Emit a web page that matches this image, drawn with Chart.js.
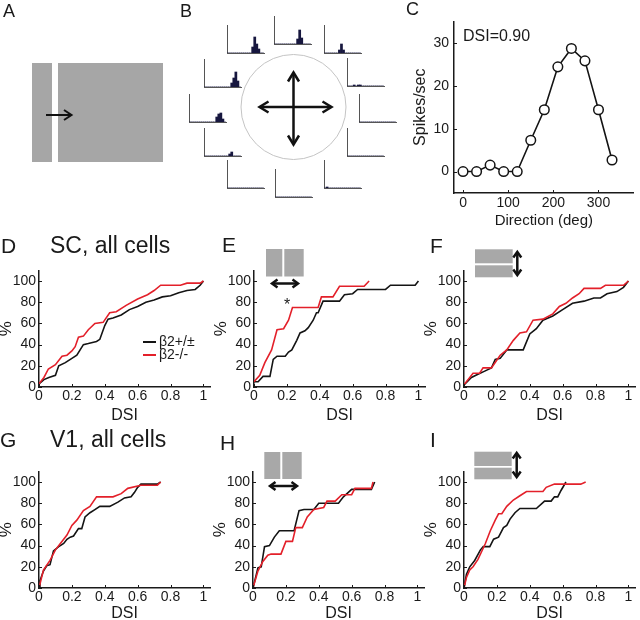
<!DOCTYPE html>
<html>
<head>
<meta charset="utf-8">
<script src="https://cdn.jsdelivr.net/npm/chart.js@4.4.1/dist/chart.umd.min.js"></script>
<style>
  html, body { margin: 0; padding: 0; background: #fff; }
  #fig { position: relative; width: 640px; height: 620px; overflow: hidden; }
  #fig canvas { position: absolute; }
  #art { position: absolute; left: 0; top: 0; pointer-events: none; }
  #art text { font-family: 'Liberation Sans', Arial, sans-serif; fill: #1a1a1a; }
</style>
</head>
<body>
<div id="fig">
  <!-- panel B: mini PSTHs -->
  <canvas id="m-topCenter"></canvas><canvas id="m-topRight"></canvas><canvas id="m-topLeft"></canvas>
  <canvas id="m-leftUp"></canvas><canvas id="m-rightUp"></canvas><canvas id="m-leftMid"></canvas>
  <canvas id="m-rightMid"></canvas><canvas id="m-leftLow"></canvas><canvas id="m-rightLow"></canvas>
  <canvas id="m-botLeft"></canvas><canvas id="m-botCenter"></canvas><canvas id="m-botRight"></canvas>
  <!-- panel C + cumulative plots -->
  <canvas id="chart-c"></canvas>
  <canvas id="chart-d"></canvas><canvas id="chart-e"></canvas><canvas id="chart-f"></canvas>
  <canvas id="chart-g"></canvas><canvas id="chart-h"></canvas><canvas id="chart-i"></canvas>

  <svg id="art" width="640" height="620">
    <!-- letters and titles -->
    <text x="3" y="17" font-size="18">A</text>
    <text x="180" y="17" font-size="18">B</text>
    <text x="406" y="15" font-size="18">C</text>
    <text x="1" y="253" font-size="21">D</text>
    <text x="50" y="253" font-size="23">SC, all cells</text>
    <text x="222" y="252" font-size="21">E</text>
    <text x="430" y="253" font-size="21">F</text>
    <text x="0" y="447" font-size="21">G</text>
    <text x="50" y="447" font-size="23">V1, all cells</text>
    <text x="220" y="450" font-size="21">H</text>
    <text x="430" y="447" font-size="21">I</text>

    <!-- A: moving bar stimulus -->
    <rect x="32" y="63" width="20" height="99" fill="#a6a6a6"/>
    <rect x="58" y="63" width="105" height="99" fill="#a6a6a6"/>
    <g fill="none" stroke="#111" stroke-width="2">
      <path d="M46,115 H71"/>
      <path d="M64,110 L71.5,115 L64,120"/>
    </g>

    <!-- B: circle with cross arrows -->
    <circle cx="293.5" cy="107" r="52.5" fill="none" stroke="#c4c4c4" stroke-width="1"/>
    <g fill="none" stroke="#111" stroke-width="2.5">
      <path d="M260,107 H331"/>
      <path d="M268.5,101.5 L259.5,107 L268.5,112.5"/>
      <path d="M322.5,101.5 L331.5,107 L322.5,112.5"/>
      <path d="M293.5,73 V144"/>
      <path d="M288,81.5 L293.5,72.5 L299,81.5"/>
      <path d="M288,135.5 L293.5,144.5 L299,135.5"/>
    </g>

    <!-- E / H insets: horizontal motion -->
    <rect x="266" y="249" width="16.3" height="27.5" fill="#a8a8a8"/>
    <rect x="284.3" y="249" width="19.4" height="27.5" fill="#a8a8a8"/>
    <rect x="264.3" y="452" width="16" height="27" fill="#a8a8a8"/>
    <rect x="282.3" y="452" width="19.4" height="27" fill="#a8a8a8"/>
    <g fill="none" stroke="#111" stroke-width="2.5">
      <path d="M273,283.5 H297"/>
      <path d="M277.5,279.5 L272,283.5 L277.5,287.5"/>
      <path d="M292.5,279.5 L298,283.5 L292.5,287.5"/>
      <path d="M271,486 H296"/>
      <path d="M275.5,482 L270,486 L275.5,490"/>
      <path d="M291.5,482 L297,486 L291.5,490"/>
    </g>
    <text x="287" y="310" font-size="16" text-anchor="middle">*</text>

    <!-- F / I insets: vertical motion -->
    <rect x="475" y="249.3" width="37.7" height="14" fill="#a8a8a8"/>
    <rect x="475" y="265.3" width="37.7" height="12" fill="#a8a8a8"/>
    <rect x="474.3" y="451.7" width="37.4" height="14.3" fill="#a8a8a8"/>
    <rect x="474.3" y="467.7" width="37.4" height="11.6" fill="#a8a8a8"/>
    <g fill="none" stroke="#111" stroke-width="2.5">
      <path d="M517.3,253 V274"/>
      <path d="M513.3,257.5 L517.3,252 L521.3,257.5"/>
      <path d="M513.3,269.5 L517.3,275 L521.3,269.5"/>
      <path d="M516.7,454 V476"/>
      <path d="M512.7,458.5 L516.7,453 L520.7,458.5"/>
      <path d="M512.7,471.5 L516.7,477 L520.7,471.5"/>
    </g>
  </svg>
</div>

<script>
'use strict';

// --- Data -----------------------------------------------------------------

// Panel B: spike histograms, one per direction (18 time bins)
const psthTopCenter = [0,0,0,0,0,0,0,0,0,0,0,5,14,6,0,0,0,0];
const psthTopRight  = [0,0,0,0,0,0,0,3,9,3,0,0,0,0,0,0,0,0];
const psthTopLeft   = [0,0,0,0,0,0,0,0,0,0,0,0,6,16,9,4,0,0];
const psthLeftUp    = [0,0,0,0,0,0,0,0,0,0,0,0,0,4,9,15,6,0];
const psthRightUp   = [0,0,0,1,0,1,1,0,0,0,0,0,0,0,0,0,0,0];
const psthLeftMid   = [0,0,0,0,0,0,0,0,0,0,0,0,0,5,8,9,3,0];
const psthRightMid  = [0,0,0,0,0,0,0,0,0,0,0,0,0,0,0,0,0,0];
const psthLeftLow   = [0,0,0,0,0,0,0,0,0,0,0,0,2,4,0,0,0,0];
const psthRightLow  = [0,0,0,0,0,0,0,0,0,0,0,0,0,0,0,0,0,0];
const psthBotLeft   = [0,0,0,0,0,0,0,0,0,0,0,0,0,0,0,0,0,0];
const psthBotCenter = [0,0,0,0,0,0,0,0,0,0,0,0,0,0,0,0,0,0];
const psthBotRight  = [0,1,0,0,0,0,0,0,0,0,0,0,0,0,0,0,0,0];

// Panel C: tuning curve
const directionsDeg = [0, 30, 60, 90, 120, 150, 180, 210, 240, 270, 300, 330];
const spikesPerSec  = [0, 0, 1.5, 0, 0, 7.3, 14.4, 24.4, 28.7, 25.8, 14.4, 2.7];
const tuningLabel   = 'DSI=0.90';
const dirTicks      = [0, 100, 200, 300];
const rateTicks     = [0, 10, 20, 30];

// Panels D-I: cumulative distributions of DSI, [DSI, %]
const dsiTicks = [0, 0.2, 0.4, 0.6, 0.8, 1];
const pctTicks = [0, 20, 40, 60, 80, 100];
const seriesLabels = ['\u03b22+/\u00b1', '\u03b22-/-'];

const scAllHet = [[0,3],[0.03,7],[0.06,9],[0.1,11],[0.12,20],[0.16,23],[0.2,27],[0.23,30],[0.27,40],[0.3,41],[0.35,43],[0.37,45],[0.4,58],[0.42,64],[0.45,65],[0.5,68],[0.55,73],[0.6,76],[0.65,80],[0.7,82],[0.75,85],[0.8,86],[0.85,89],[0.9,91],[0.95,92],[0.98,96],[1,100]];
const scAllKo  = [[0,3],[0.03,9],[0.057,17],[0.1,21],[0.14,29],[0.17,30],[0.2,34],[0.22,38],[0.24,47],[0.27,48],[0.3,54],[0.34,60],[0.39,61],[0.43,70],[0.47,71],[0.53,77],[0.6,83],[0.66,87],[0.7,91],[0.74,96],[0.86,96],[0.9,98],[0.98,98],[1,100]];

const scHorHet = [[0,5],[0.025,5],[0.055,10],[0.097,10],[0.117,26],[0.14,29],[0.19,29],[0.21,33],[0.23,35],[0.26,44],[0.28,51],[0.31,53],[0.33,56],[0.36,63],[0.38,70],[0.39,70],[0.42,81],[0.52,81],[0.55,87],[0.6,88],[0.63,92],[0.8,92],[0.83,96],[0.98,96],[1,100]];
const scHorKo  = [[0,5],[0.035,11],[0.066,23],[0.107,35],[0.14,54],[0.18,55],[0.21,63],[0.234,75],[0.39,75],[0.41,85],[0.48,85],[0.52,95],[0.67,95],[0.7,100]];

const scVerHet = [[0,2],[0.045,9],[0.085,12],[0.126,15],[0.167,18],[0.19,26],[0.22,27],[0.26,35],[0.36,35],[0.4,50],[0.44,55],[0.48,63],[0.54,67],[0.6,73],[0.66,79],[0.73,81],[0.79,84],[0.83,84],[0.87,88],[0.93,90],[0.97,94],[1,100]];
const scVerKo  = [[0,2],[0.055,13],[0.095,13],[0.116,18],[0.167,18],[0.22,30],[0.26,35],[0.3,44],[0.34,51],[0.38,52],[0.42,63],[0.48,64],[0.54,69],[0.58,76],[0.62,79],[0.66,84],[0.7,88],[0.73,93],[0.83,93],[0.86,96],[0.97,96],[1,100]];

const v1AllHet = [[0,0],[0.006,7],[0.027,16],[0.047,21],[0.067,22],[0.088,35],[0.12,39],[0.15,42],[0.17,46],[0.19,48],[0.21,49],[0.24,56],[0.26,56],[0.28,67],[0.31,71],[0.34,74],[0.37,77],[0.43,77],[0.48,81],[0.52,85],[0.56,86],[0.58,90],[0.6,95],[0.62,98],[0.72,98],[0.74,100]];
const v1AllKo  = [[0,0],[0.027,17],[0.067,26],[0.1,36],[0.13,42],[0.17,50],[0.2,59],[0.23,64],[0.27,73],[0.31,77],[0.35,86],[0.45,86],[0.5,89],[0.54,94],[0.62,97],[0.72,97],[0.74,100]];

const v1HorHet = [[0,0],[0.03,19],[0.05,20],[0.07,39],[0.1,40],[0.13,48],[0.16,54],[0.25,54],[0.28,73],[0.31,74],[0.37,74],[0.4,80],[0.52,80],[0.55,86],[0.6,93],[0.72,93],[0.74,100]];
const v1HorKo  = [[0,0],[0.03,16],[0.06,25],[0.09,31],[0.11,32],[0.17,32],[0.2,44],[0.24,44],[0.26,57],[0.3,57],[0.33,67],[0.37,74],[0.43,76],[0.45,82],[0.5,82],[0.54,88],[0.6,88],[0.62,94],[0.72,94],[0.73,100]];

const v1VerHet = [[0,0],[0.015,13],[0.035,20],[0.065,26],[0.1,36],[0.117,39],[0.157,39],[0.18,46],[0.21,48],[0.24,57],[0.26,59],[0.28,65],[0.31,71],[0.34,75],[0.44,75],[0.49,82],[0.53,82],[0.55,86],[0.57,86],[0.59,92],[0.62,100]];
const v1VerKo  = [[0,0],[0.015,10],[0.035,17],[0.055,20],[0.085,27],[0.13,42],[0.16,54],[0.19,64],[0.21,70],[0.23,70],[0.26,77],[0.3,83],[0.34,87],[0.38,91],[0.48,91],[0.5,95],[0.55,98],[0.71,98],[0.74,100]];

// --- Layout / style ---------------------------------------------------------

const FONT = "'Liberation Sans', Arial, sans-serif";
const INK = '#1a1a1a';
const BLACK = '#141414';
const RED = '#e3202a';

// corner (x, y) of each mini L-axis in panel B
const miniCorners = {
  topCenter: [274, 44], topRight: [324, 53], topLeft: [227, 53],
  leftUp: [204, 87], rightUp: [347, 86], leftMid: [189, 122],
  rightMid: [359, 122], leftLow: [204, 156], rightLow: [347, 156],
  botLeft: [227, 188], botCenter: [275, 197], botRight: [324, 188],
};
const MINI_W = 37, MINI_H = 28;

Chart.defaults.font.family = FONT;
Chart.defaults.color = INK;

// Matlab-like inward tick marks
const inTicks = {
  id: 'inTicks',
  afterDraw(chart, args, o) {
    const { ctx, chartArea: a, scales: { x, y } } = chart;
    ctx.save();
    ctx.strokeStyle = INK;
    ctx.lineWidth = 1;
    ctx.beginPath();
    x.ticks.forEach((t) => {
      const px = Math.round(x.getPixelForValue(t.value)) + 0.5;
      ctx.moveTo(px, a.bottom); ctx.lineTo(px, a.bottom - o.len);
    });
    y.ticks.forEach((t) => {
      const py = Math.round(y.getPixelForValue(t.value)) + 0.5;
      ctx.moveTo(a.left, py); ctx.lineTo(a.left + o.len, py);
    });
    ctx.stroke();
    ctx.restore();
  },
};

// small legend for panel D
const keyBox = {
  id: 'keyBox',
  afterDatasetsDraw(chart, args, o) {
    const { ctx, chartArea: a } = chart;
    ctx.save();
    ctx.font = `${o.size}px ${FONT}`;
    ctx.textBaseline = 'middle';
    chart.data.datasets.forEach((ds, i) => {
      const y = a.bottom + o.dy + i * o.gap;
      ctx.strokeStyle = ds.borderColor;
      ctx.lineWidth = 2;
      ctx.beginPath();
      ctx.moveTo(a.left + o.dx, y);
      ctx.lineTo(a.left + o.dx + o.len, y);
      ctx.stroke();
      ctx.fillStyle = INK;
      ctx.fillText(ds.label, a.left + o.dx + o.len + 3, y);
    });
    ctx.restore();
  },
};

// text label inside the plot area of panel C
const cornerText = {
  id: 'cornerText',
  afterDraw(chart, args, o) {
    const { ctx, chartArea: a } = chart;
    ctx.save();
    ctx.font = `${o.size}px ${FONT}`;
    ctx.fillStyle = INK;
    ctx.textBaseline = 'middle';
    ctx.fillText(o.text, a.left + o.dx, a.top + o.dy);
    ctx.restore();
  },
};

function place(el, left, top, w, h) {
  el.width = w; el.height = h;
  el.style.left = left + 'px';
  el.style.top = top + 'px';
  el.style.width = w + 'px';
  el.style.height = h + 'px';
}

function toXY(pairs) { return pairs.map(([x, y]) => ({ x, y })); }

// --- Panel B --------------------------------------------------------------

function makeMini(name, values) {
  const el = document.getElementById('m-' + name);
  const [cx, cy] = miniCorners[name];
  place(el, cx - 1, cy - MINI_H - 1, MINI_W + 2, MINI_H + 2);
  const axis = { color: '#555', width: 1 };
  return new Chart(el, {
    type: 'bar',
    data: {
      labels: values.map((_, i) => i),
      datasets: [{ data: values, backgroundColor: '#17173f', borderWidth: 0, barPercentage: 1, categoryPercentage: 1 }],
    },
    options: {
      responsive: false, animation: false, events: [], devicePixelRatio: 1,
      layout: { padding: 1 },
      plugins: { legend: { display: false }, tooltip: { enabled: false } },
      scales: {
        x: { grid: { display: false, drawTicks: false }, ticks: { display: false }, border: axis, afterFit: (s) => { s.height = 0; } },
        y: { min: 0, max: MINI_H, grid: { display: false, drawTicks: false }, ticks: { display: false }, border: axis, afterFit: (s) => { s.width = 0; } },
      },
    },
  });
}

makeMini('topCenter', psthTopCenter);
makeMini('topRight', psthTopRight);
makeMini('topLeft', psthTopLeft);
makeMini('leftUp', psthLeftUp);
makeMini('rightUp', psthRightUp);
makeMini('leftMid', psthLeftMid);
makeMini('rightMid', psthRightMid);
makeMini('leftLow', psthLeftLow);
makeMini('rightLow', psthRightLow);
makeMini('botLeft', psthBotLeft);
makeMini('botCenter', psthBotCenter);
makeMini('botRight', psthBotRight);

// --- Panel C --------------------------------------------------------------

(function makeTuning() {
  const el = document.getElementById('chart-c');
  place(el, 404, 8, 236, 225);
  const border = { color: INK, width: 1.5 };
  new Chart(el, {
    type: 'line',
    data: {
      labels: directionsDeg,
      datasets: [{
        data: directionsDeg.map((d, i) => ({ x: d, y: spikesPerSec[i] })),
        borderColor: BLACK, borderWidth: 1.6, tension: 0,
        pointRadius: 4.8, pointBorderWidth: 1.5, pointBorderColor: BLACK, pointBackgroundColor: '#fff',
      }],
    },
    options: {
      responsive: false, animation: false, events: [], devicePixelRatio: 1,
      layout: { padding: { top: 2, right: 2, left: 0, bottom: 0 } },
      plugins: { legend: { display: false }, tooltip: { enabled: false }, inTicks: { len: 3 }, cornerText: { text: tuningLabel, size: 16, dx: 9, dy: 15 } },
      scales: {
        x: {
          type: 'linear', min: -20, max: 378,
          afterBuildTicks: (s) => { s.ticks = dirTicks.map((v) => ({ value: v })); },
          ticks: { padding: 2, font: { size: 14 } },
          grid: { display: false, drawTicks: false }, border,
          title: { display: true, text: 'Direction (deg)', font: { size: 15 }, padding: { top: 0, bottom: 3 } },
          afterFit: (s) => { s.height = 40; },
        },
        y: {
          min: -5, max: 35,
          afterBuildTicks: (s) => { s.ticks = rateTicks.map((v) => ({ value: v })); },
          ticks: { padding: 5, font: { size: 14 } },
          grid: { display: false, drawTicks: false }, border,
          title: { display: true, text: 'Spikes/sec', font: { size: 16 }, padding: { top: 7, bottom: 0 } },
          afterFit: (s) => { s.width = 50; },
        },
      },
    },
    plugins: [inTicks, cornerText],
  });
})();

// --- Panels D-I -----------------------------------------------------------

function makeCdf(id, plotLeft, plotBottom, het, ko, titlePad, key) {
  const el = document.getElementById(id);
  place(el, plotLeft - 44, plotBottom - 128, 221, 168);
  const border = { color: INK, width: 1.5 };
  return new Chart(el, {
    type: 'line',
    data: {
      datasets: [
        { label: seriesLabels[0], data: toXY(het), borderColor: BLACK, order: 1 },
        { label: seriesLabels[1], data: toXY(ko), borderColor: RED, order: 0 },
      ],
    },
    options: {
      responsive: false, animation: false, events: [], devicePixelRatio: 1,
      layout: { padding: { top: 3, right: 6, left: 0, bottom: 0 } },
      elements: { point: { radius: 0 }, line: { borderWidth: 1.6, tension: 0 } },
      plugins: {
        legend: { display: false }, tooltip: { enabled: false },
        inTicks: { len: 3 },
        keyBox: key ? { dx: 104, len: 13, dy: -45, gap: 13, size: 14 } : false,
      },
      scales: {
        x: {
          type: 'linear', min: 0, max: 1.04,
          afterBuildTicks: (s) => { s.ticks = dsiTicks.map((v) => ({ value: v })); },
          ticks: { padding: 1, font: { size: 14 }, callback: (v) => String(v) },
          grid: { display: false, drawTicks: false }, border,
          title: { display: true, text: 'DSI', font: { size: 16 }, padding: { top: 0, bottom: titlePad } },
          afterFit: (s) => { s.height = 40; },
        },
        y: {
          min: 0, max: 110,
          afterBuildTicks: (s) => { s.ticks = pctTicks.map((v) => ({ value: v })); },
          ticks: { padding: 3, font: { size: 14 } },
          grid: { display: false, drawTicks: false }, border,
          title: { display: true, text: '%', font: { size: 17 }, padding: { top: 1, bottom: 0 } },
          afterFit: (s) => { s.width = 44; },
        },
      },
    },
    plugins: [inTicks, keyBox],
  });
}

makeCdf('chart-d', 39, 387, scAllHet, scAllKo, 2, true);
makeCdf('chart-e', 254, 387, scHorHet, scHorKo, 2, false);
makeCdf('chart-f', 464, 387, scVerHet, scVerKo, 2, false);
makeCdf('chart-g', 39, 588, v1AllHet, v1AllKo, 5, false);
makeCdf('chart-h', 253, 588, v1HorHet, v1HorKo, 5, false);
makeCdf('chart-i', 464, 588, v1VerHet, v1VerKo, 5, false);
</script>
</body>
</html>
